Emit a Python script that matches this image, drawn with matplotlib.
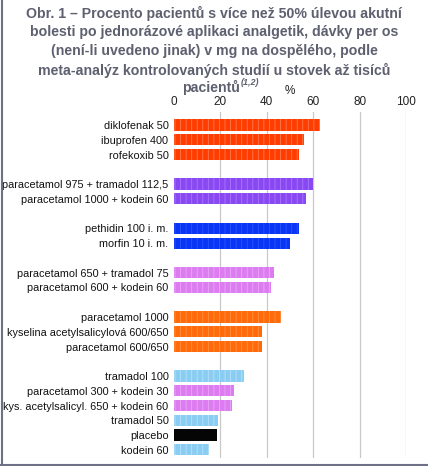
import matplotlib
matplotlib.use("Agg")
import matplotlib.pyplot as plt
from matplotlib.lines import Line2D

plt.rcParams['font.family'] = ['Liberation Sans', 'DejaVu Sans']
plt.rcParams['hatch.linewidth'] = 0.6

labels = [
    "diklofenak 50", "ibuprofen 400", "rofekoxib 50",
    "paracetamol 975 + tramadol 112,5", "paracetamol 1000 + kodein 60",
    "pethidin 100 i. m.", "morfin 10 i. m.",
    "paracetamol 650 + tramadol 75", "paracetamol 600 + kodein 60",
    "paracetamol 1000", "kyselina acetylsalicylová 600/650", "paracetamol 600/650",
    "tramadol 100", "paracetamol 300 + kodein 30", "kys. acetylsalicyl. 650 + kodein 60",
    "tramadol 50", "placebo", "kodein 60",
]
values = [63, 56, 54, 60, 57, 54, 50, 43, 42, 46, 38, 38, 30, 26, 25, 19, 18.5, 15]
rows = [0, 1, 2, 4, 5, 7, 8, 10, 11, 13, 14, 15, 17, 18, 19, 20, 21, 22]
colors = ["#FF3D00", "#FF3D00", "#FF3D00",
          "#8A48F2", "#8A48F2",
          "#0A35F5", "#0A35F5",
          "#DC7CF0", "#DC7CF0",
          "#FF6A0A", "#FF6A0A", "#FF6A0A",
          "#8ACDF2", "#DC7CF0", "#DC7CF0", "#8ACDF2", "#050505", "#8ACDF2"]
hatchcolors = ["#FF7A50", "#FF7A50", "#FF7A50",
               "#A878FF", "#A878FF",
               "#2A55FF", "#2A55FF",
               "#EAA8F8", "#EAA8F8",
               "#FF9040", "#FF9040", "#FF9040",
               "#B8E2FA", "#EAA8F8", "#EAA8F8", "#B8E2FA", "#050505", "#B8E2FA"]
xticks = [0, 20, 40, 60, 80, 100]

title_lines = [
    "Obr. 1 – Procento pacientů s více než 50% úlevou akutní",
    "bolesti po jednorázové aplikaci analgetik, dávky per os",
    "(není-li uvedeno jinak) v mg na dospělého, podle",
    "meta-analýz kontrolovaných studií u stovek až tisíců",
]
title_last = "pacientů"
title_sup = "(1,2)"

W, H = 428, 466
fig = plt.figure(figsize=(W/100, H/100), dpi=100)
ax = fig.add_axes([174/W, 1-458/H, 232/W, (458-112)/H])

for r, v, c, hc in zip(rows, values, colors, hatchcolors):
    ax.barh(r, v, height=0.76, color=c, edgecolor=hc, linewidth=0, hatch='|||', zorder=3)

ax.set_xlim(0, 100)
ax.set_ylim(22.55, -0.88)
ax.set_yticks(rows)
ax.set_yticklabels(labels, fontsize=7.8, color="#111111")
ax.set_xticks(xticks)
ax.set_xticklabels([str(t) for t in xticks], fontsize=8.5, color="#222222")
ax.xaxis.tick_top()
ax.xaxis.set_label_position('top')
ax.set_xlabel('%', fontsize=8.5, color="#222222", labelpad=1)
ax.tick_params(axis='both', length=0, pad=3)
ax.tick_params(axis='y', pad=4)
for s in ax.spines.values():
    s.set_visible(False)
for t in xticks[1:]:
    ax.axvline(t, color="#C8C8C8", linewidth=0.9, zorder=1)

tcol = "#5E6070"
ys = [13, 32, 51, 70]
for y, line in zip(ys, title_lines):
    fig.text(0.5, 1-y/H, line, ha='center', va='center', fontsize=10.2,
             fontweight='bold', color=tcol)
fig.text(240/W, 1-87/H, title_last, ha='right', va='center', fontsize=10.2,
         fontweight='bold', color=tcol)
fig.text(241/W, 1-83/H, title_sup, ha='left', va='center', fontsize=6.5,
         fontweight='bold', fontstyle='italic', color=tcol)

fig.add_artist(Line2D([1.5/W, 1.5/W], [0, 1], transform=fig.transFigure,
                      color="#6E7088", linewidth=1.5))
fig.add_artist(Line2D([0, 1], [1.5/H, 1.5/H], transform=fig.transFigure,
                      color="#6E7088", linewidth=1.5))

fig.savefig("out.png", dpi=100)
